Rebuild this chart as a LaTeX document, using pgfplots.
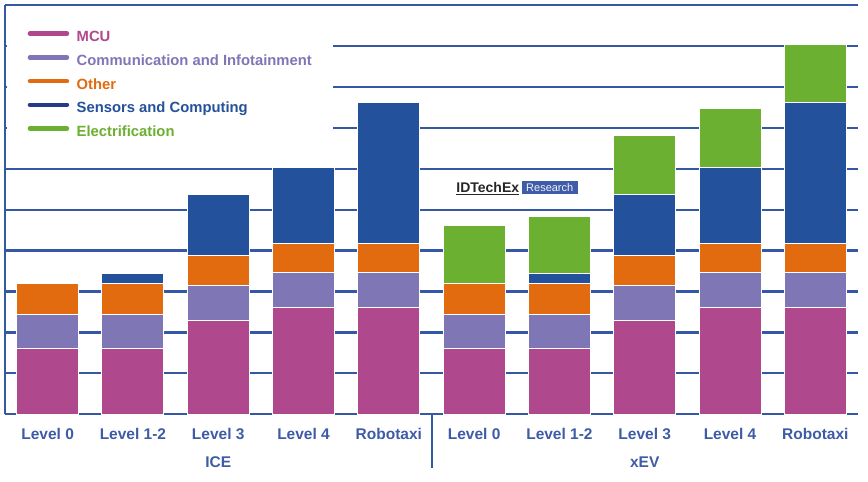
\documentclass[border=0pt]{standalone}
\usepackage{fontspec}
\setmainfont{Liberation Sans}
\usepackage{pgfplots}
\pgfplotsset{compat=1.18}
\definecolor{mcu}{HTML}{B0488E}
\definecolor{comm}{HTML}{7F77B5}
\definecolor{other}{HTML}{E26B10}
\definecolor{sens}{HTML}{24519C}
\definecolor{sensleg}{HTML}{263A8A}
\definecolor{elec}{HTML}{6BB030}
\definecolor{gridc}{HTML}{3558A6}
\definecolor{tickc}{HTML}{3E5CA6}
\definecolor{logob}{HTML}{3F5CA8}

\pgfplotstableread{
x y
0 1.61
1 1.61
2 2.30
3 2.60
4 2.60
5 1.61
6 1.61
7 2.30
8 2.60
9 2.60
}\mcudata
\pgfplotstableread{
x y
0 0.83
1 0.83
2 0.84
3 0.86
4 0.86
5 0.83
6 0.83
7 0.84
8 0.86
9 0.86
}\commdata
\pgfplotstableread{
x y
0 0.76
1 0.76
2 0.73
3 0.72
4 0.72
5 0.76
6 0.76
7 0.73
8 0.72
9 0.72
}\otherdata
\pgfplotstableread{
x y
0 0
1 0.23
2 1.51
3 1.86
4 3.45
5 0
6 0.23
7 1.51
8 1.85
9 3.43
}\sensdata
\pgfplotstableread{
x y
0 0
1 0
2 0
3 0
4 0
5 1.41
6 1.41
7 1.43
8 1.43
9 1.42
}\elecdata

\begin{document}
\begin{tikzpicture}
\begin{axis}[
  at={(5pt,67.7pt)}, anchor=south west,
  scale only axis, width=853pt, height=409.3pt,
  xmin=-0.5, xmax=9.5, ymin=0, ymax=10,
  clip=false,
  ybar stacked, bar width=0.727,
  axis line style={draw=none},
  ytick={0,1,...,10}, yticklabels={},
  ymajorgrids, major grid style={line width=2.2pt, color=gridc},
  major tick length=0pt,
  xtick={0,...,9},
  xticklabels={Level 0, Level 1-2, Level 3, Level 4, Robotaxi, Level 0, Level 1-2, Level 3, Level 4, Robotaxi},
  xticklabel style={font=\bfseries\fontsize{15.5}{18}\selectfont, text=tickc, anchor=base, yshift=-25pt},
  legend cell align=left,
  legend image code/.code={\draw[#1] (0pt,4pt) -- (37pt,4pt);},
  legend style={draw=none, fill=white,
    at={(rel axis cs:0,1)}, anchor=north west, xshift=1.5pt, yshift=-6.5pt,
    inner xsep=21pt, inner ysep=19pt,
    row sep=9.7pt,
    font=\bfseries\fontsize{14.8}{17}\selectfont,
    nodes={inner sep=0pt, text height=11pt, text depth=3pt},
    /tikz/every odd column/.append style={column sep=7.5pt}},
]
\addlegendimage{line width=4.5pt, line cap=round, color=mcu}
\addlegendentry{\textcolor{mcu}{MCU}}
\addlegendimage{line width=4.5pt, line cap=round, color=comm}
\addlegendentry{\textcolor{comm}{Communication and Infotainment}}
\addlegendimage{line width=4.5pt, line cap=round, color=other}
\addlegendentry{\textcolor{other}{Other}}
\addlegendimage{line width=4.5pt, line cap=round, color=sensleg}
\addlegendentry{\textcolor{sens}{Sensors and Computing}}
\addlegendimage{line width=4.5pt, line cap=round, color=elec}
\addlegendentry{\textcolor{elec}{Electrification}}

\addplot[fill=mcu, draw=white, line width=1pt, forget plot] table[x=x,y=y] {\mcudata};
\addplot[fill=comm, draw=white, line width=1pt, forget plot] table[x=x,y=y] {\commdata};
\addplot[fill=other, draw=white, line width=1pt, forget plot] table[x=x,y=y] {\otherdata};
\addplot[fill=sens, draw=white, line width=1pt, forget plot] table[x=x,y=y] {\sensdata};
\addplot[fill=elec, draw=white, line width=1pt, forget plot] table[x=x,y=y] {\elecdata};

\draw[gridc, line width=2.2pt] (rel axis cs:0,0) -- (rel axis cs:0,1);
\draw[gridc, line width=2pt] (axis cs:4.5,0) -- ++(0pt,-54pt);
\node[anchor=base, font=\bfseries\fontsize{15.5}{18}\selectfont, text=tickc, yshift=-52.7pt] at (axis cs:2,0) {ICE};
\node[anchor=base, font=\bfseries\fontsize{15.5}{18}\selectfont, text=tickc, yshift=-52.7pt] at (axis cs:7,0) {xEV};
\node[anchor=base east, inner sep=0pt, font=\bfseries\fontsize{14}{16}\selectfont, text=black!85] at (axis cs:5.53,5.41) {\underline{IDTechEx}};
\node[anchor=west, fill=logob, text=white!92!logob, inner xsep=4.5pt, inner ysep=1.5pt, minimum height=13pt, font=\fontsize{11}{13}\selectfont] at (axis cs:5.555,5.53) {Research};
\end{axis}
\pgfresetboundingbox
\path[use as bounding box] (0,0) rectangle (868pt,482pt);
\end{tikzpicture}
\end{document}
